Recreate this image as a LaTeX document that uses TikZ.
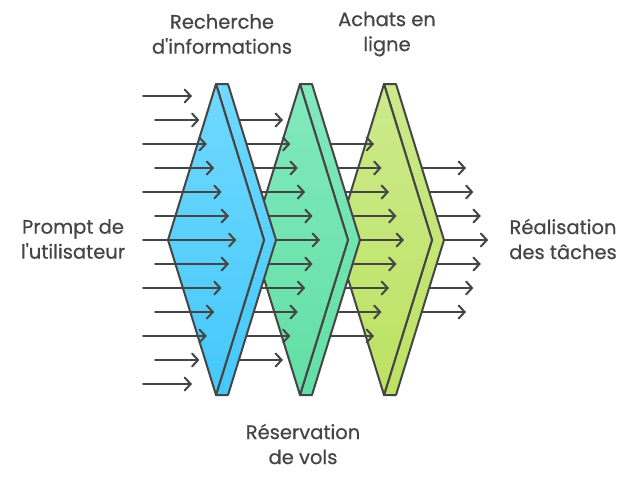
\documentclass[tikz,border=0pt]{standalone}
\usepackage{fontspec}
\setmainfont{Poppins}
\newfontfamily\lblfont{Poppins}[Ligatures=TeXOff,FakeBold=0.6]
\usetikzlibrary{arrows.meta}
\definecolor{ink}{HTML}{454545}
\definecolor{bluetop}{HTML}{70D9FF}
\definecolor{bluebot}{HTML}{45C8FA}
\definecolor{greentop}{HTML}{82E9BE}
\definecolor{greenbot}{HTML}{62DFA4}
\definecolor{lime}{HTML}{CCEA8C}
\definecolor{limebot}{HTML}{BCE262}
\tikzset{
  flow/.style={draw=ink, line width=2pt, line cap=round, -{Straight Barb[length=6pt,width=13pt,line width=2pt,line cap=round]}},
  face/.style={draw=ink, line width=2pt, line join=round},
  lbl/.style={text=ink, align=center, font=\lblfont\fontsize{19.5}{25}\selectfont},
}
\newcommand{\prism}[4]{% #1 centre x, #2 top colour, #3 bottom colour, #4 name
  \coordinate (#4t) at (#1,84);
  \coordinate (#4l) at (#1-48,240);
  \coordinate (#4b) at (#1,395);
  \coordinate (#4r) at (#1+48,240);
  \coordinate (#4tt) at (#1+12,84);
  \coordinate (#4rr) at (#1+60,240);
  \coordinate (#4bb) at (#1+12,395);
  \path[face, top color=#2, bottom color=#3] (#4t) -- (#4tt) -- (#4rr) -- (#4bb) -- (#4b) -- (#4r) -- cycle;
  \path[face, top color=#2, bottom color=#3] (#4t) -- (#4r) -- (#4b) -- (#4l) -- cycle;
}
\begin{document}
\begin{tikzpicture}[x=1pt,y=-1pt]
\useasboundingbox (0,0) rectangle (636,480);
% output arrows
\foreach \k in {0,...,6}{
  \pgfmathsetmacro{\yy}{168+24*\k}
  \pgfmathsetmacro{\xx}{466+7.4*(3-abs(\k-3))}
  \coordinate (os\k) at (413,\yy);
  \coordinate (oe\k) at (\xx,\yy);
  \draw[flow] (os\k) -- (oe\k);
}
\prism{384}{lime}{limebot}{y}
% green -> lime arrows
\foreach \k in {0,...,8}{
  \pgfmathsetmacro{\yy}{144+24*\k}
  \pgfmathsetmacro{\xx}{374+7.5*(4-abs(\k-4))}
  \coordinate (cs\k) at (322,\yy);
  \coordinate (ce\k) at (\xx,\yy);
  \draw[flow] (cs\k) -- (ce\k);
}
\prism{300}{greentop}{greenbot}{g}
% blue -> green arrows
\foreach \k in {0,...,10}{
  \pgfmathsetmacro{\yy}{120+24*\k}
  \pgfmathsetmacro{\xx}{283+7.4*(5-abs(\k-5))}
  \coordinate (bs\k) at (232,\yy);
  \coordinate (be\k) at (\xx,\yy);
  \draw[flow] (bs\k) -- (be\k);
}
\prism{216}{bluetop}{bluebot}{b}
% input arrows
\foreach \k in {0,...,12}{
  \pgfmathsetmacro{\yy}{96+24*\k}
  \pgfmathsetmacro{\xx}{192+7.4*(6-abs(\k-6))}
  \pgfmathsetmacro{\xs}{isodd(\k) ? 155 : 143}
  \coordinate (is\k) at (\xs,\yy);
  \coordinate (ie\k) at (\xx,\yy);
  \draw[flow] (is\k) -- (ie\k);
}
% labels
\node[lbl] (rech) at (222,34) {Recherche\\d'informations};
\node[lbl] (achat) at (387,34) {Achats en\\ligne};
\node[lbl] (resa) at (303,444) {Réservation\\de vols};
\node[lbl] (prompt) at (73,239) {Prompt de\\l'utilisateur};
\node[lbl] (real) at (563,239) {Réalisation\\des tâches};
\end{tikzpicture}
\end{document}
